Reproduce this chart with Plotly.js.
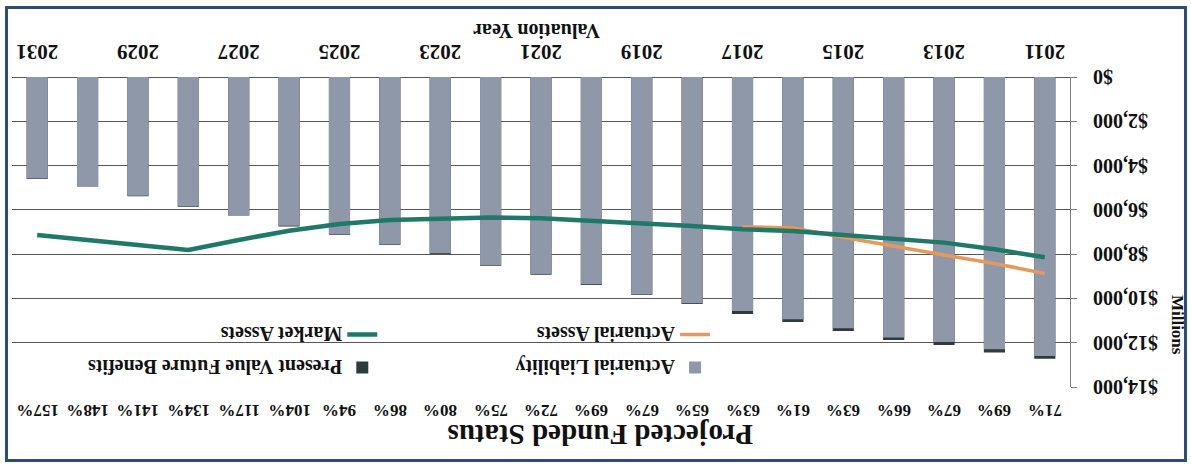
<!DOCTYPE html>
<html>
<head>
<meta charset="utf-8">
<script src="https://cdn.plot.ly/plotly-3.0.1.min.js"></script>
<style>
  html, body { margin: 0; padding: 0; background: #ffffff; }
  #page {
    position: relative; width: 1191px; height: 466px; overflow: hidden;
    background: #ffffff; transform: rotate(180deg); transform-origin: 50% 50%;
  }
  #chart { position: absolute; left: 0; top: 0; width: 1191px; height: 466px; }
  #frame {
    position: absolute; left: 4px; top: 4px; width: 1176px; height: 450px;
    border: 3px solid #2d4d78; pointer-events: none;
  }
</style>
</head>
<body>
<div id="page"><div id="chart"></div><div id="frame"></div></div>
<script>
// Valuation years and the labelled subset on the axis
const years = ['2011','2012','2013','2014','2015','2016','2017','2018','2019','2020','2021',
               '2022','2023','2024','2025','2026','2027','2028','2029','2030','2031'];
const yearTicks = ['2011','2013','2015','2017','2019','2021','2023','2025','2027','2029','2031'];

// $ millions
const actuarialLiability = [12600, 12300, 11970, 11760, 11350, 10940, 10570, 10220, 9820, 9360, 8900,
                            8490, 7960, 7560, 7110, 6720, 6230, 5830, 5360, 4920, 4580];
const presentValueFutureBenefits = [12720, 12440, 12100, 11880, 11470, 11070, 10700, 10250, 9850, 9390, 8930,
                                    8520, 7990, 7590, 7140, 6750, 6260, 5860, 5390, 4950, 4610];
const actuarialYears = ['2011','2012','2013','2014','2015','2016','2017'];
const actuarialAssets = [8870, 8420, 8040, 7660, 7240, 6820, 6760];
const marketAssets = [8140, 7780, 7480, 7330, 7140, 6950, 6880, 6730, 6610, 6460, 6380,
                      6340, 6380, 6460, 6640, 6940, 7360, 7810, 7590, 7360, 7140];

// Projected funded ratio for each valuation year
const fundedStatus = ['71%','69%','67%','66%','63%','61%','63%','65%','67%','69%','72%',
                      '75%','80%','86%','94%','104%','117%','134%','141%','148%','157%'];

const SERIF = 'Liberation Serif, Times New Roman, serif';
const boldFont = (size) => ({ family: SERIF, size: size, color: '#111111', weight: 'bold' });

const traces = [
  { type: 'bar', name: 'Present Value Future Benefits', x: years, y: presentValueFutureBenefits,
    marker: { color: '#2e3a3b' }, legend: 'legend2', legendgroup: 'pvfb', hoverinfo: 'x+y' },
  { type: 'bar', name: 'Actuarial Liability', x: years, y: actuarialLiability,
    marker: { color: '#8f98a9' }, legend: 'legend', legendgroup: 'al', hoverinfo: 'x+y' },
  { type: 'scatter', mode: 'lines', name: 'Actuarial Assets', x: actuarialYears, y: actuarialAssets,
    line: { color: '#e49a5c', width: 3.5 }, legend: 'legend', legendgroup: 'aa' },
  { type: 'scatter', mode: 'lines', name: 'Market Assets', x: years, y: marketAssets,
    line: { color: '#1f7868', width: 4.5 }, legend: 'legend2', legendgroup: 'ma' }
];

// funded-ratio row above the plot; x is the category index on the year axis
const annotations = fundedStatus.map((t, i) => ({
  text: t, x: i, xref: 'x', y: 1.075, yref: 'paper',
  xanchor: 'center', yanchor: 'middle', showarrow: false, font: boldFont(17)
}));
annotations.push({
  text: 'Millions', xref: 'paper', yref: 'paper', x: -0.102, y: 0.80,
  textangle: -90, showarrow: false, xanchor: 'center', yanchor: 'middle', font: boldFont(17)
});
annotations.push({
  text: 'Valuation Year', xref: 'paper', yref: 'paper', x: 0.504, y: -0.149,
  showarrow: false, xanchor: 'center', yanchor: 'middle', font: boldFont(20)
});

const legendBase = {
  orientation: 'v', traceorder: 'grouped', tracegroupgap: 4,
  bgcolor: 'rgba(255,255,255,0)', borderwidth: 0,
  font: boldFont(20), xanchor: 'left', yanchor: 'top', y: 1.0
};

const layout = {
  width: 1191, height: 466,
  margin: { l: 121, r: 12, t: 79, b: 77 },
  paper_bgcolor: '#ffffff', plot_bgcolor: '#ffffff',
  barmode: 'overlay', bargap: 0.58,
  title: { text: 'Projected Funded Status', font: boldFont(29),
           x: 0.496, xref: 'container', xanchor: 'center', y: 0.933, yref: 'container', yanchor: 'middle' },
  xaxis: {
    type: 'category', categoryorder: 'array', categoryarray: years,
    range: [-0.5, years.length - 0.5], autorange: false,
    tickmode: 'array', tickvals: yearTicks, ticktext: yearTicks,
    showgrid: false, ticks: '', showline: false, tickfont: boldFont(21),
    ticklabelstandoff: 10
  },
  yaxis: {
    range: [0, 14000], autorange: false, tickmode: 'linear', tick0: 0, dtick: 2000,
    tickformat: '$,.0f', tickfont: boldFont(20),
    showgrid: true, gridcolor: '#575757', gridwidth: 1,
    zeroline: true, zerolinecolor: '#575757', zerolinewidth: 1,
    showline: true, linecolor: '#7a7a7a', linewidth: 1,
    ticks: 'outside', ticklen: 6, tickcolor: '#7a7a7a',
    ticklabelstandoff: 12
  },
  legend: Object.assign({}, legendBase, { x: 0.3355 }),
  legend2: Object.assign({}, legendBase, { x: 0.650 }),
  shapes: [{
    type: 'rect', xref: 'paper', yref: 'paper', layer: 'between',
    x0: 0.331, x1: 0.963, y0: 0.735, y1: 0.994,
    fillcolor: '#ffffff', line: { width: 0 }
  }],
  annotations: annotations,
  showlegend: true
};

Plotly.newPlot('chart', traces, layout, { displayModeBar: false, staticPlot: true });
</script>
</body>
</html>
